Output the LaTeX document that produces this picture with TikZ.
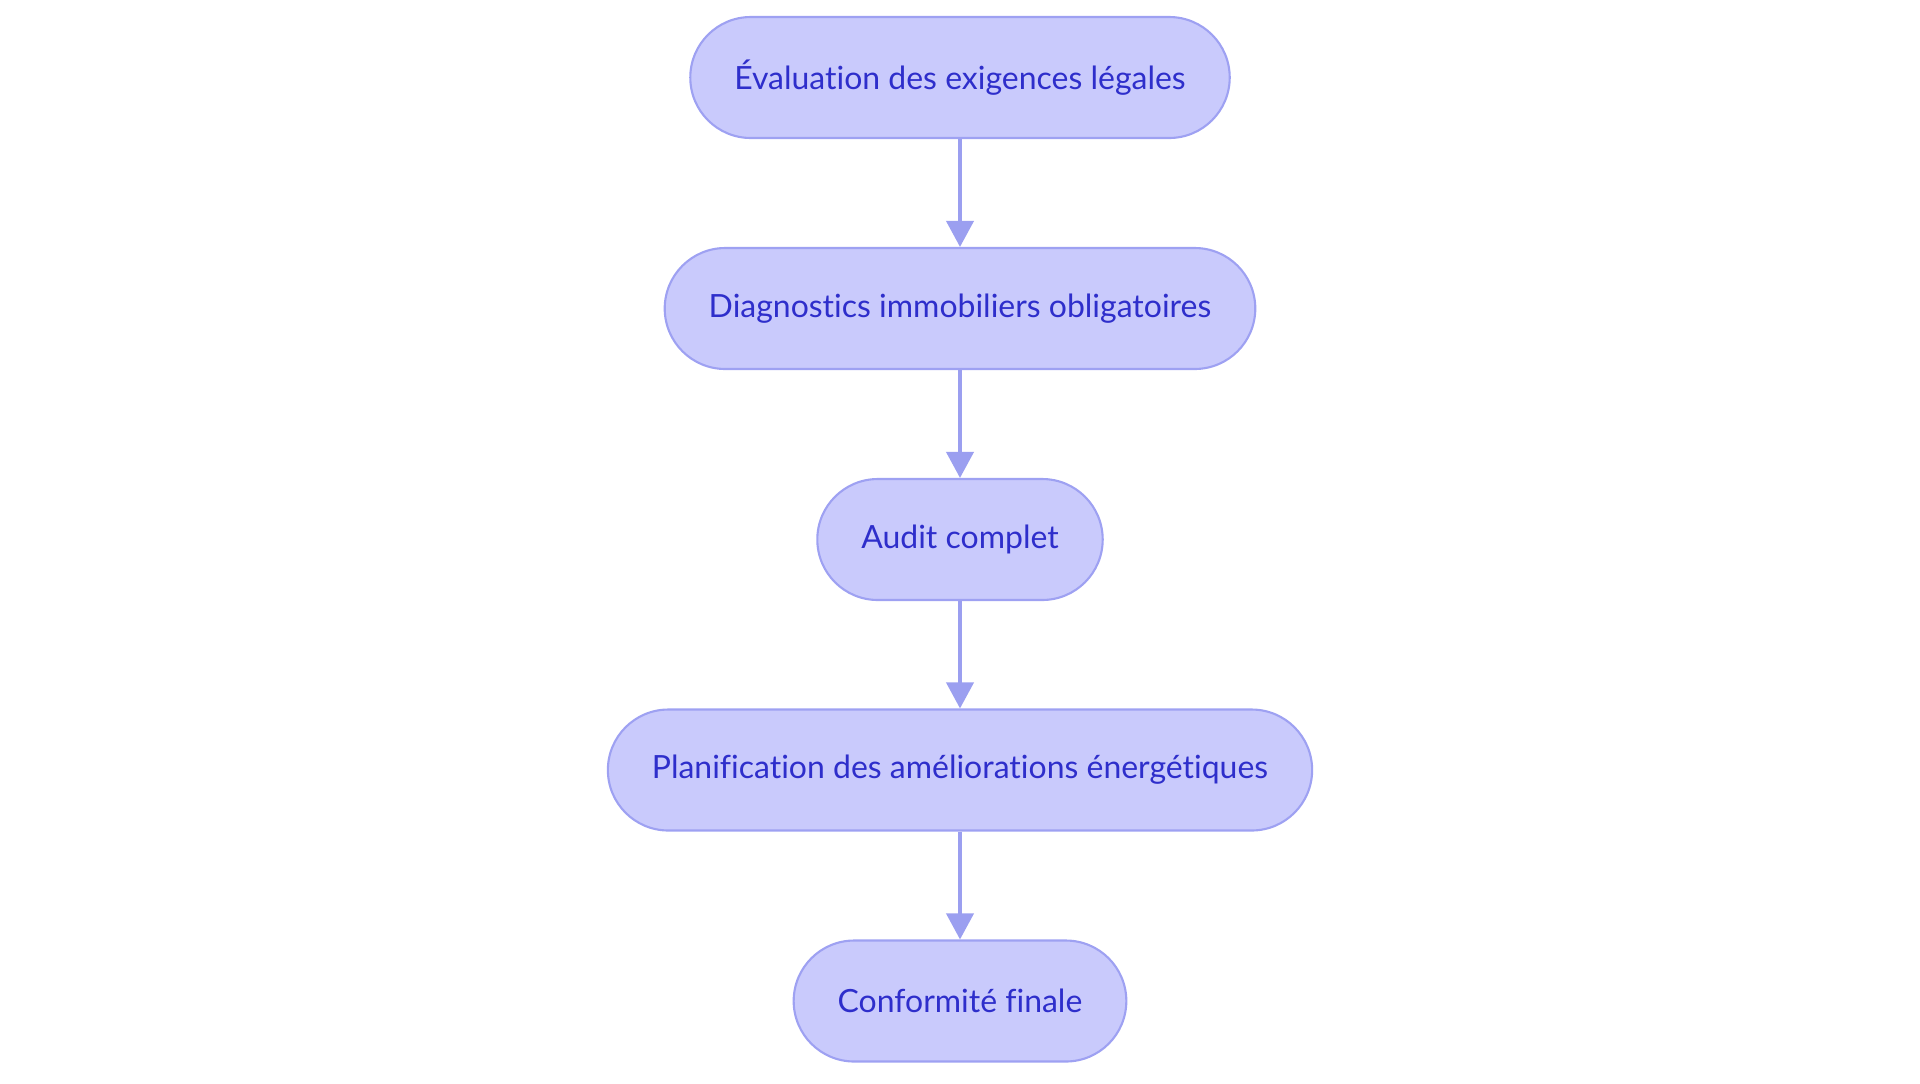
\documentclass[tikz,border=0pt]{standalone}
\usepackage{fontspec}
\setmainfont{Lato}[Ligatures={NoCommon}]
\usepackage{xcolor}
\usepackage{tikz}
\usetikzlibrary{arrows.meta}
\definecolor{boxfill}{HTML}{C9CAFC}
\definecolor{boxline}{HTML}{9EA1F2}
\definecolor{boxtext}{HTML}{2E2ECB}
\definecolor{flowline}{HTML}{9B9FF0}

\begin{document}
\begin{tikzpicture}[x=0.02cm, y=-0.02cm,
    stadium/.style={draw=boxline, line width=1.2pt, fill=boxfill, text=boxtext,
        rounded corners=1.21cm, minimum height=2.42cm, inner xsep=0.88cm,
        font=\fontsize{18.2}{21}\selectfont},
    flow/.style={draw=flowline, line width=2.2pt, -{Triangle[length=0.52cm, width=0.54cm]}}]
\useasboundingbox (0,0) rectangle (1920,1083);
\node[stadium] (eval) at (960,77.5) {Évaluation des exigences légales};
\node[stadium] (diag) at (960,308.5) {Diagnostics immobiliers obligatoires};
\node[stadium] (audit) at (960,539.5) {Audit complet};
\node[stadium] (plan) at (960,770) {Planification des améliorations énergétiques};
\node[stadium] (conf) at (960,1001) {Conformité finale};
\foreach \a/\b in {eval/diag, diag/audit, audit/plan, plan/conf}
    \draw[flow] (\a) -- (\b);
\end{tikzpicture}
\end{document}
